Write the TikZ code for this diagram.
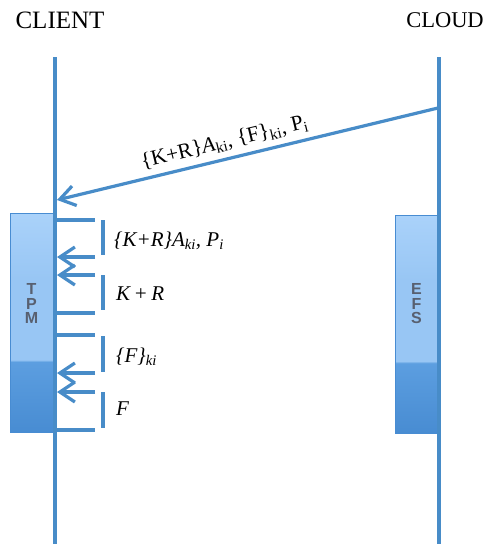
\documentclass[tikz,border=0pt]{standalone}
\usepackage{fontspec}
\setmainfont{Liberation Serif}
\setsansfont{Liberation Sans}
\usepackage{tikz}
\usetikzlibrary{positioning, arrows.meta}
\definecolor{lineblue}{RGB}{72,140,200}
\definecolor{boxlight}{RGB}{170,210,250}
\definecolor{boxmid}{RGB}{152,198,244}
\definecolor{boxdark}{RGB}{92,158,224}
\definecolor{boxdarker}{RGB}{72,140,210}
\definecolor{letgray}{RGB}{88,96,112}
\pgfdeclareverticalshading{storeshade}{100bp}{color(0bp)=(boxdarker); color(25bp)=(boxdarker); color(41bp)=(boxdark); color(41.5bp)=(boxmid); color(60bp)=(boxmid); color(75bp)=(boxlight); color(100bp)=(boxlight)}
\tikzstyle{life_line}=[draw=lineblue, line width=3.2pt]
\tikzstyle{store_box}=[draw=boxdarker, line width=0.8pt, shading=storeshade, minimum width=43pt, inner sep=0pt]
\tikzstyle{store_text}=[font=\sffamily\bfseries\fontsize{16}{14.5}\selectfont, text=letgray, align=center, inner sep=0pt]
\tikzstyle{call_line}=[draw=lineblue, line width=3.2pt]
\tikzstyle{call_bar}=[draw=lineblue, line width=4.5pt]
\tikzstyle{call_label}=[anchor=west, inner sep=0pt, font=\fontsize{21}{21}\selectfont\itshape]
\tikzstyle{side_title}=[font=\fontsize{25}{25}\selectfont]

\begin{document}
\begin{tikzpicture}[x=1pt, y=-1pt, >={Straight Barb[length=15pt, width=20pt]}]
    \useasboundingbox (0,0) rectangle (487,544);

    \node[side_title] at ( 60, 20) (client) {CLIENT};
    \node[side_title, font=\fontsize{22.5}{25}\selectfont] at (445, 20) (cloud) {CLOUD};

    \node[store_box, minimum height=219pt] at ( 31.5, 322.5) (tpm) {};
    \node[store_box, minimum height=218pt] at (416.5, 324.0) (efs) {};
    \node[store_text] at ([yshift=19pt]tpm.center) (tpmtext) {T\\P\\M};
    \node[store_text] at ([yshift=20pt]efs.center) (efstext) {E\\F\\S};

    \coordinate (c0) at ( 55,  57);  \coordinate (c1) at ( 55, 544);
    \coordinate (d0) at (439,  57);  \coordinate (d1) at (439, 544);
    \draw[life_line] (c0) -- (c1);
    \draw[life_line] (d0) -- (d1);

    \coordinate (m0) at (438, 108);  \coordinate (m1) at ( 57, 200);
    \draw[->, call_line] (m0) -- (m1)
        node[pos=0.55, sloped, above, inner sep=6pt, font=\fontsize{21.5}{21.5}\selectfont]
        {\{K+R\}\textit{A}\textsubscript{ki}, \{F\}\textsubscript{ki}, P\textsubscript{i}};

    \coordinate (l1) at (57, 220);  \coordinate (r1) at (95, 220);
    \coordinate (l2) at (57, 257);  \coordinate (r2) at (95, 257);
    \coordinate (l3) at (57, 275);  \coordinate (r3) at (95, 275);
    \coordinate (l4) at (57, 313);  \coordinate (r4) at (95, 313);
    \coordinate (l5) at (57, 335);  \coordinate (r5) at (95, 335);
    \coordinate (l6) at (57, 373);  \coordinate (r6) at (95, 373);
    \coordinate (l7) at (57, 392);  \coordinate (r7) at (95, 392);
    \coordinate (l8) at (57, 430);  \coordinate (r8) at (95, 430);

    \draw[call_line] (l1) -- (r1);
    \draw[->, call_line] (r2) -- (l2);
    \draw[->, call_line] (r3) -- (l3);
    \draw[call_line] (l4) -- (r4);
    \draw[call_line] (l5) -- (r5);
    \draw[->, call_line] (r6) -- (l6);
    \draw[->, call_line] (r7) -- (l7);
    \draw[call_line] (l8) -- (r8);

    \coordinate (v1) at (103, 220);  \coordinate (w1) at (103, 255);
    \coordinate (v2) at (103, 275);  \coordinate (w2) at (103, 310);
    \coordinate (v3) at (103, 336);  \coordinate (w3) at (103, 372);
    \coordinate (v4) at (103, 392);  \coordinate (w4) at (103, 428);
    \draw[call_bar] (v1) -- (w1);
    \draw[call_bar] (v2) -- (w2);
    \draw[call_bar] (v3) -- (w3);
    \draw[call_bar] (v4) -- (w4);

    \node[call_label] at (114, 241) (g1) {\{K+R\}A\textsubscript{ki}, P\textsubscript{i}};
    \node[call_label] at (116, 294) (g2) {K\,+\,R};
    \node[call_label] at (116, 357) (g3) {\{F\}\textsubscript{ki}};
    \node[call_label] at (116, 409) (g4) {F};
\end{tikzpicture}
\end{document}
